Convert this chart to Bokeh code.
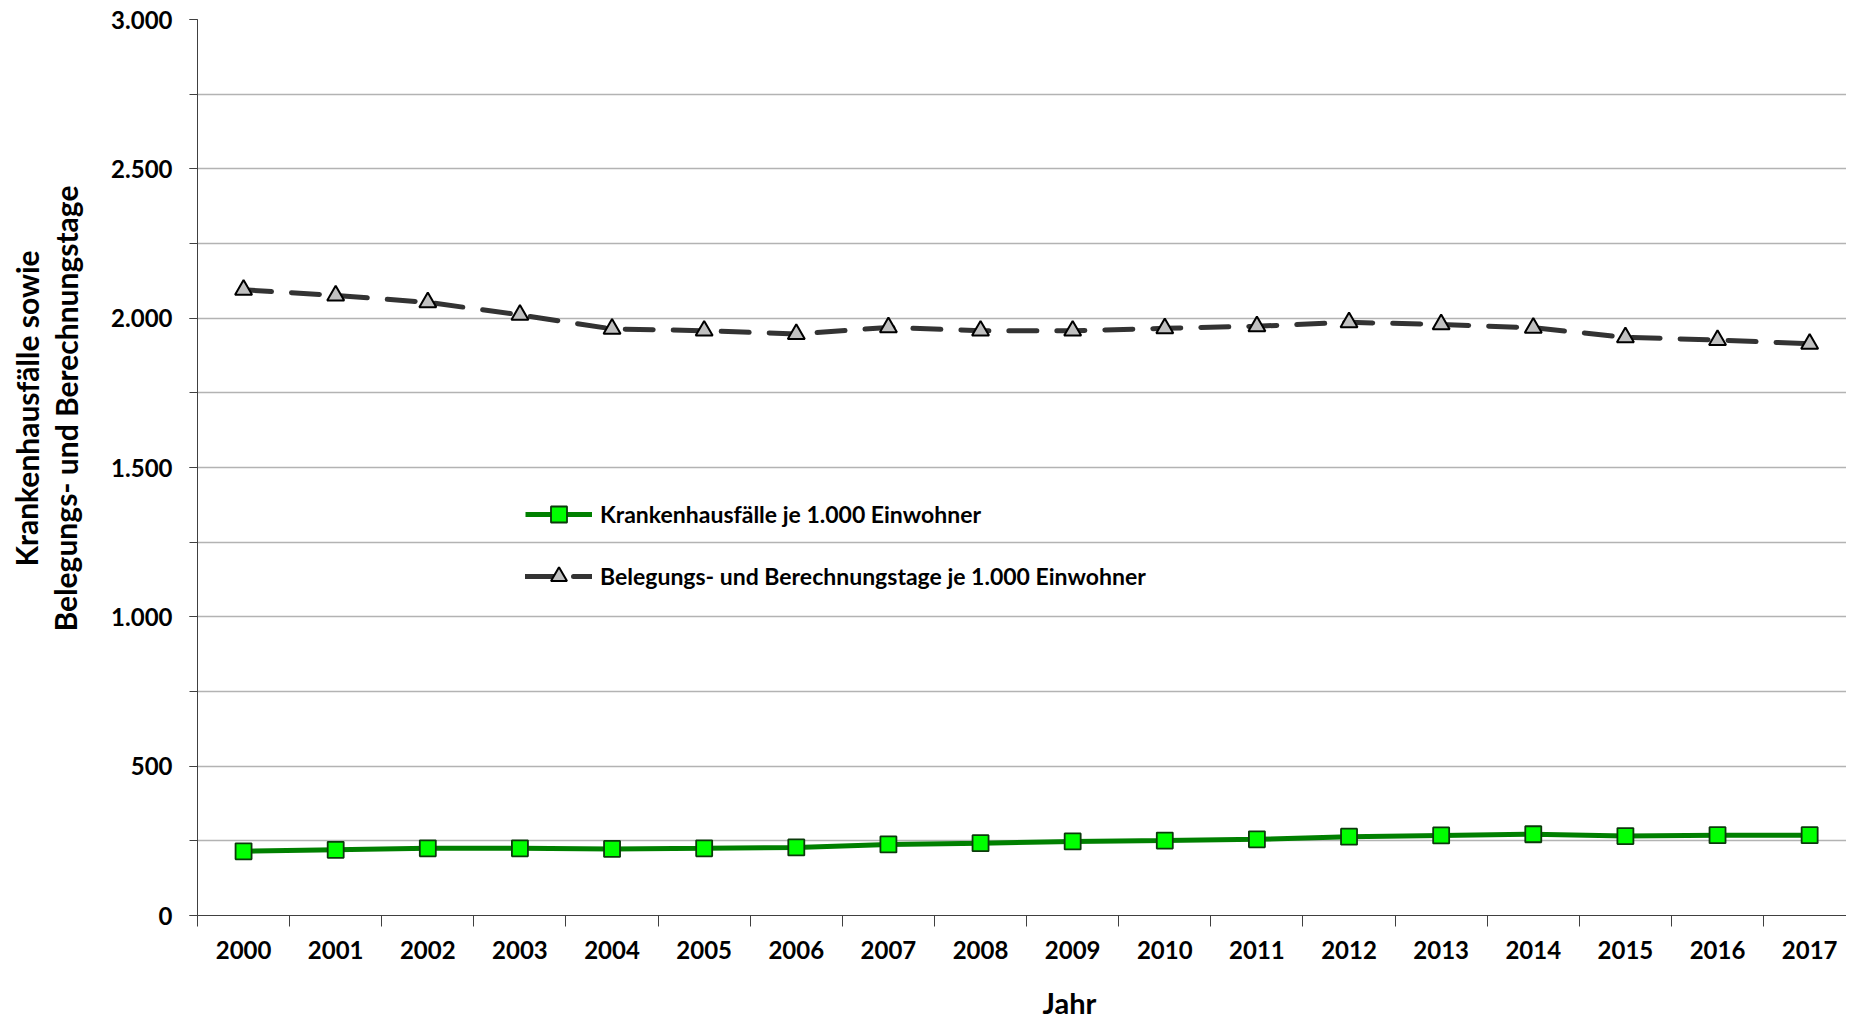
from bokeh.plotting import figure
from bokeh.layouts import row, column
from bokeh.models import Range1d, FixedTicker, Label, Legend, LegendItem
from bokeh.embed import file_html
from bokeh.resources import INLINE

# ---- data ----
years = [str(y) for y in range(2000, 2018)]
faelle = [215, 220, 225, 225, 223, 225, 228, 238, 242, 248, 251, 255, 264, 268, 272, 266, 269, 269]
tage = [2095, 2076, 2053, 2011, 1964, 1958, 1947, 1969, 1958, 1958, 1966, 1973, 1986, 1979, 1968, 1936, 1927, 1914]
y_ticks = [0, 500, 1000, 1500, 2000, 2500, 3000]
y_tick_labels = ["0", "500", "1.000", "1.500", "2.000", "2.500", "3.000"]
y_grid = list(range(0, 3001, 250))
series_names = ["Krankenhausfälle je 1.000 Einwohner",
                "Belegungs- und Berechnungstage je 1.000 Einwohner"]
y_title = ["Krankenhausfälle sowie", "Belegungs- und Berechnungstage"]
x_title = "Jahr"

FONT = "Lato"
xs = [i + 0.5 for i in range(len(years))]

TOTAL_W, TOTAL_H = 1846, 1023
LEFT_W = 108
MAIN_BORDER_LEFT = 88
MAIN_W, MAIN_H = TOTAL_W - LEFT_W, 980
FRAME_LEFT = LEFT_W + MAIN_BORDER_LEFT


def strip(w, h):
    s = figure(width=w, height=h, output_backend="svg", toolbar_location=None,
               x_axis_type=None, y_axis_type=None,
               x_range=Range1d(0, 1), y_range=Range1d(0, 1),
               min_border=0)
    s.outline_line_color = None
    s.grid.grid_line_color = None
    s.background_fill_color = "white"
    s.border_fill_color = "white"
    return s


p = figure(width=MAIN_W, height=MAIN_H, output_backend="svg", toolbar_location=None,
           x_range=Range1d(0, 17.9), y_range=Range1d(0, 3000),
           min_border_left=MAIN_BORDER_LEFT, min_border_right=0, min_border_top=19,
           min_border_bottom=65)
p.outline_line_color = None
p.background_fill_color = "white"
p.border_fill_color = "white"

# grid
p.xgrid.grid_line_color = None
p.ygrid.ticker = FixedTicker(ticks=y_grid)
p.ygrid.grid_line_color = "#b3b3b3"
p.ygrid.grid_line_width = 1.3

# y axis
ya = p.yaxis[0]
ya.ticker = FixedTicker(ticks=y_ticks, minor_ticks=y_grid)
ya.major_label_overrides = {t: l for t, l in zip(y_ticks, y_tick_labels)}
ya.major_tick_in = 0
ya.major_tick_out = 8
ya.minor_tick_in = 0
ya.minor_tick_out = 8
ya.major_tick_line_color = "#404040"
ya.minor_tick_line_color = "#404040"
ya.axis_line_color = "#404040"
ya.major_label_text_font = FONT
ya.major_label_text_font_style = "bold"
ya.major_label_text_font_size = "24px"
ya.major_label_text_color = "black"
ya.major_label_standoff = 17

# x axis
xa = p.xaxis[0]
xa.ticker = FixedTicker(ticks=xs, minor_ticks=list(range(len(years) + 1)))
xa.major_label_overrides = {x: y for x, y in zip(xs, years)}
xa.major_tick_line_color = None
xa.minor_tick_in = 0
xa.minor_tick_out = 11
xa.minor_tick_line_color = "#404040"
xa.axis_line_color = "#404040"
xa.major_label_text_font = FONT
xa.major_label_text_font_style = "bold"
xa.major_label_text_font_size = "24px"
xa.major_label_text_color = "black"
xa.major_label_standoff = 14

# series
l1 = p.line(xs, faelle, line_color="#008000", line_width=5)
s1 = p.scatter(xs, faelle, marker="square", size=16, fill_color="#00ff00",
               line_color="#0b3a0b", line_width=1.8)
l2 = p.line(xs, tage, line_color="#333333", line_width=5, line_dash="28 20", line_cap="round")
s2 = p.scatter(xs, tage, marker="triangle", size=17, fill_color="#c0c0c0",
               line_color="black", line_width=2)

legend = Legend(items=[LegendItem(label=series_names[0], renderers=[l1, s1]),
                       LegendItem(label=series_names[1], renderers=[l2, s2])],
                location=(328, 319), orientation="vertical",
                glyph_width=67, glyph_height=40, label_height=40, spacing=22,
                padding=0, margin=0, label_standoff=8,
                border_line_color=None, background_fill_alpha=0,
                label_text_font=FONT, label_text_font_style="bold",
                label_text_font_size="23px", label_text_color="black")
p.add_layout(legend, "center")

# y-axis title strip (left)
left = strip(LEFT_W, TOTAL_H)
for txt, xpos in zip(y_title, [26, 65]):
    left.add_layout(Label(x=xpos, y=TOTAL_H - 408, x_units="screen", y_units="screen", text=txt,
                          angle=1.5707963, text_align="center", text_baseline="middle",
                          text_font=FONT, text_font_style="bold", text_font_size="30px",
                          text_color="black"))

# x-axis title strip (bottom); its frame is aligned with the main frame
bottom = strip(MAIN_W, TOTAL_H - MAIN_H)
bottom.add_layout(Label(x=1068 - FRAME_LEFT, y=TOTAL_H - 1002, x_units="screen", y_units="screen",
                        text=x_title, text_align="center", text_baseline="middle",
                        text_font=FONT, text_font_style="bold", text_font_size="29px",
                        text_color="black"))

layout = row(left, column(p, bottom, spacing=0), spacing=0)

open("out.html", "w").write(file_html(layout, INLINE))
